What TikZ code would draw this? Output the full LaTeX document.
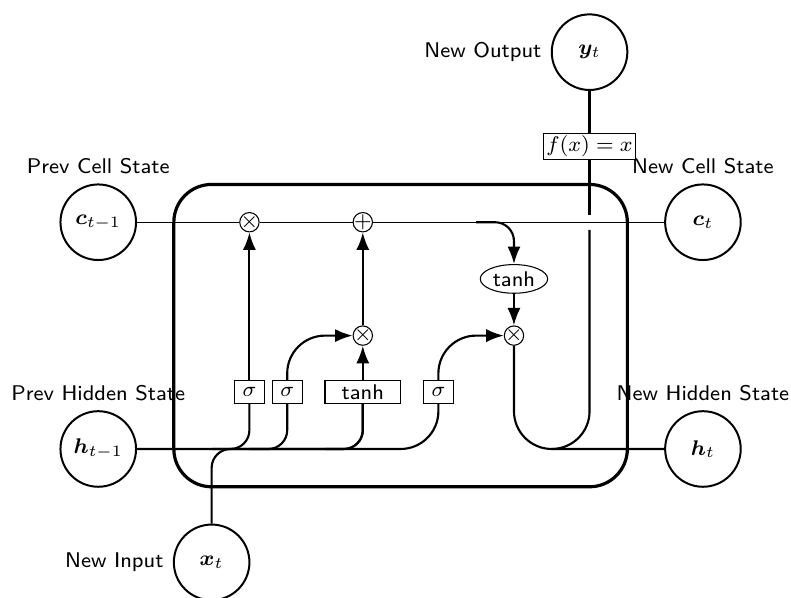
\documentclass[tikz,border=0pt]{standalone}
\usepackage{amsmath}
\usepackage{bm}
\usetikzlibrary{shapes.geometric,arrows.meta,calc}
\begin{document}
\begin{tikzpicture}[
    font=\sffamily\footnotesize,
    >=LaTeX,
    cell/.style={rectangle, rounded corners=5mm, draw, very thick},
    operator/.style={circle, draw, inner sep=-0.5pt, minimum height=.2cm},
    function/.style={ellipse, draw, inner sep=1pt},
    ct/.style={circle, draw, line width=.75pt, minimum width=1cm, inner sep=1pt},
    gt/.style={rectangle, draw, minimum width=4mm, minimum height=3mm, inner sep=1pt},
    fbox/.style={rectangle, draw, fill=white, inner sep=1pt},
    mylabel/.style={font=\footnotesize\sffamily},
    ArrowC1/.style={rounded corners=.25cm, thick},
    ArrowC2/.style={rounded corners=.5cm, thick},
]
\useasboundingbox (-5.30,-3.467) rectangle (5.165,4.44);

\node [cell, minimum height=4cm, minimum width=6cm] (cellbox) at (0,0) {};

\node [gt] (ibox1) at (-2,-0.75) {$\sigma$};
\node [gt] (ibox2) at (-1.5,-0.75) {$\sigma$};
\node [gt, minimum width=1cm] (ibox3) at (-0.5,-0.75) {tanh};
\node [gt] (ibox4) at (0.5,-0.75) {$\sigma$};

\node [operator] (mux1) at (-2,1.5) {$\times$};
\node [operator] (add1) at (-0.5,1.5) {$+$};
\node [operator] (mux2) at (-0.5,0) {$\times$};
\node [operator] (mux3) at (1.5,0) {$\times$};
\node [function] (func1) at (1.5,0.75) {tanh};

\node [ct, label={[mylabel]Prev Cell State}] (c) at (-4,1.5) {$\bm{c}_{t-1}$};
\node [ct, label={[mylabel]Prev Hidden State}] (h) at (-4,-1.5) {$\bm{h}_{t-1}$};
\node [ct, label={[mylabel]left:New Input}] (x) at (-2.5,-3) {$\bm{x}_{t}$};

\node [ct, label={[mylabel]New Cell State}] (c2) at (4,1.5) {$\bm{c}_{t}$};
\node [ct, label={[mylabel]New Hidden State}] (h2) at (4,-1.5) {$\bm{h}_{t}$};
\node [ct, label={[mylabel]left:New Output}] (x2) at (2.5,3.75) {$\bm{y}_{t}$};

\draw (c) -- (mux1) -- (add1) -- (c2);

\draw [ArrowC2] (h) -| (ibox4);
\draw [ArrowC1] (h -| ibox1) ++(-0.5,0) -| (ibox1);
\draw [ArrowC1] (h -| ibox2) ++(-0.5,0) -| (ibox2);
\draw [ArrowC1] (h -| ibox3) ++(-0.5,0) -| (ibox3);
\draw [ArrowC1] (x) -- (x |- h) -| (ibox3);

\draw [->, ArrowC2] (ibox1) -- (mux1);
\draw [->, ArrowC2] (ibox2) |- (mux2);
\draw [->, ArrowC2] (ibox3) -- (mux2);
\draw [->, ArrowC2] (ibox4) |- (mux3);
\draw [->, ArrowC2] (mux2) -- (add1);
\draw [->, ArrowC1] (add1 -| func1) ++(-0.5,0) -| (func1);
\draw [->, ArrowC2] (func1) -- (mux3);

\draw [ArrowC2] (mux3) |- (h2);
\coordinate (i1) at ($(c2 -| x2) + (0,-0.1)$);
\coordinate (i2) at ($(c2 -| x2) + (0,0.1)$);
\draw [ArrowC2] (h2 -| x2) ++(-0.5,0) -| (i1);
\node [fbox] (fx) at (2.5,2.5) {$f(x)=x$};
\draw [thick] (i2) -- (fx) -- (x2);
\end{tikzpicture}
\end{document}
